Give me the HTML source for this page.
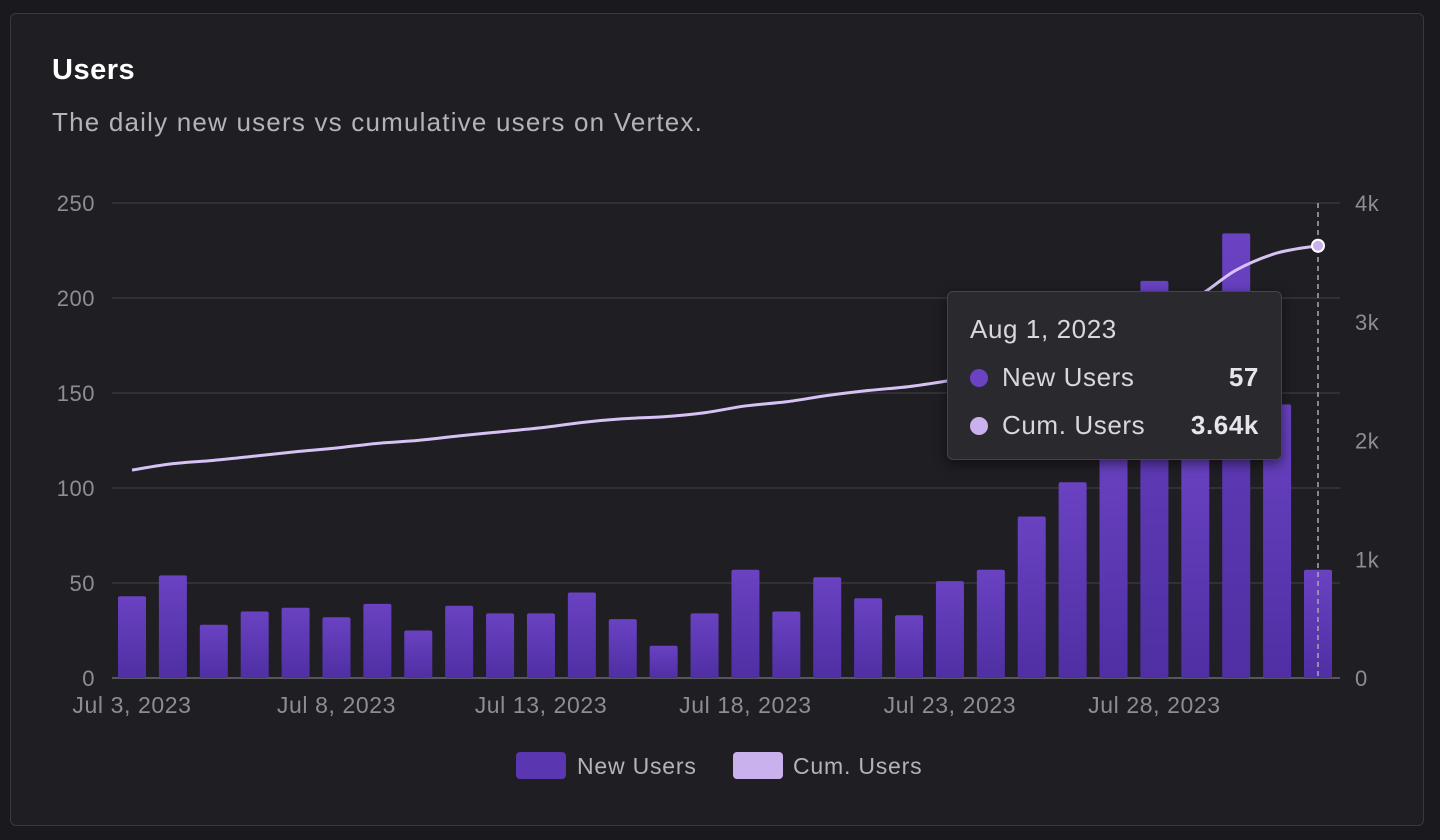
<!DOCTYPE html>
<html><head><meta charset="utf-8">
<style>
body{margin:0;width:1440px;height:840px;background:#1a191d;font-family:"Liberation Sans",sans-serif;overflow:hidden}
.card{position:absolute;left:10px;top:13px;width:1414px;height:813px;border:1px solid #3a393f;border-radius:6px;background:#1f1e23;box-sizing:border-box}
h1{position:absolute;left:52px;top:54px;margin:0;font-size:29px;font-weight:bold;color:#fff;letter-spacing:0.5px}
.sub{position:absolute;left:52px;top:107px;font-size:26px;color:#b4b3b9;letter-spacing:1.2px}
.tt{position:absolute;left:947px;top:291px;width:335px;height:169px;background:#2a292e;border:1px solid #45444a;border-radius:6px;box-sizing:border-box;color:#d8d7dc;font-size:26px;letter-spacing:0.6px;box-shadow:0 4px 12px rgba(0,0,0,.5)}
.tt .r{position:absolute;left:22px;right:22px;display:flex;align-items:center}
.tt .d{width:18px;height:18px;border-radius:50%;margin-right:14px}
.tt b{margin-left:auto;color:#e6e5ea}
</style></head><body>
<div class="card"></div>
<h1>Users</h1>
<div class="sub">The daily new users vs cumulative users on Vertex.</div>
<svg id="c" width="1440" height="840" style="position:absolute;left:0;top:0">
<defs><linearGradient id="g" x1="0" y1="0" x2="0" y2="1"><stop offset="0" stop-color="#6a42c2"/><stop offset="1" stop-color="#4f2fa3"/></linearGradient></defs>
</svg>
<div class="tt">
<div style="position:absolute;left:22px;top:22px">Aug 1, 2023</div>
<div class="r" style="top:70px"><span class="d" style="background:#6a42c2"></span>New Users<b>57</b></div>
<div class="r" style="top:118px"><span class="d" style="background:#c9b1ee"></span>Cum. Users<b>3.64k</b></div>
</div>
<script>
const categories=["Jul 3","Jul 4","Jul 5","Jul 6","Jul 7","Jul 8","Jul 9","Jul 10","Jul 11","Jul 12","Jul 13","Jul 14","Jul 15","Jul 16","Jul 17","Jul 18","Jul 19","Jul 20","Jul 21","Jul 22","Jul 23","Jul 24","Jul 25","Jul 26","Jul 27","Jul 28","Jul 29","Jul 30","Jul 31","Aug 1"];
const newUsers=[43,54,28,35,37,32,39,25,38,34,34,45,31,17,34,57,35,53,42,33,51,57,85,103,122,209,120,234,144,57];
const cumUsers=[1751,1805,1833,1868,1905,1937,1976,2001,2039,2073,2107,2152,2183,2200,2234,2291,2326,2379,2421,2454,2505,2562,2647,2750,2872,3081,3201,3435,3579,3640];
const leftTicks=[0,50,100,150,200,250];
const rightTicks=[0,1000,2000,3000,4000];
const rightLabels=["0","1k","2k","3k","4k"];
const xLabels=["Jul 3, 2023","Jul 8, 2023","Jul 13, 2023","Jul 18, 2023","Jul 23, 2023","Jul 28, 2023"];
const xLabelIdx=[0,5,10,15,20,25];
const svg=document.getElementById('c');const NS='http://www.w3.org/2000/svg';
const X0=132,X1=1318,Y0=678,Y1=203;
const x=i=>X0+(X1-X0)*i/(categories.length-1);
const yl=v=>Y0-(Y0-Y1)*v/250;
const yr=v=>Y0-(Y0-Y1)*v/4000;
function mk(t,a,txt){const e=document.createElementNS(NS,t);for(const k in a)e.setAttribute(k,a[k]);if(txt!==undefined)e.textContent=txt;svg.appendChild(e);return e;}
leftTicks.forEach(v=>{const l=mk('line',{x1:112,x2:1340,y1:yl(v),y2:yl(v),stroke:v===0?'#6a696f':'#38373d','stroke-width':1.5});

const t=mk('text',{x:95,y:yl(v)+8,'text-anchor':'end',fill:'#8e8d93','font-size':22,'letter-spacing':0.5},String(v));
});
rightTicks.forEach((v,i)=>{const t=mk('text',{x:1355,y:yr(v)+8,fill:'#8e8d93','font-size':22,'letter-spacing':0.5},rightLabels[i]);
});
xLabelIdx.forEach((ix,i)=>{const t=mk('text',{x:x(ix),y:713,'text-anchor':'middle',fill:'#8e8d93','font-size':23,'letter-spacing':0.6},xLabels[i]);
});
newUsers.forEach((v,i)=>{const r=mk('rect',{x:x(i)-14,y:yl(v),width:28,height:Y0-yl(v),rx:2,fill:'url(#g)'});
});
mk('line',{x1:x(29),x2:x(29),y1:203,y2:678,stroke:'#aaa','stroke-width':1.5,'stroke-dasharray':'5,4'});
const pts=cumUsers.map((v,i)=>[x(i),yr(v)]);
let d='M'+pts[0][0]+','+pts[0][1];
for(let i=0;i<pts.length-1;i++){const p0=pts[i-1]||pts[i],p1=pts[i],p2=pts[i+1],p3=pts[i+2]||p2;
d+=` C${p1[0]+(p2[0]-p0[0])/6},${p1[1]+(p2[1]-p0[1])/6} ${p2[0]-(p3[0]-p1[0])/6},${p2[1]-(p3[1]-p1[1])/6} ${p2[0]},${p2[1]}`;}
const ln=mk('path',{d:d,fill:'none',stroke:'#d6c2f5','stroke-width':3});

const pt=mk('circle',{cx:x(29),cy:yr(cumUsers[29]),r:6,fill:'#c9b1ee',stroke:'#fff','stroke-width':2});

const s1=mk('rect',{x:516,y:752,width:50,height:27,rx:4,fill:'#5a36b0'});

const t1=mk('text',{x:577,y:774,fill:'#b4b3b9','font-size':23,'letter-spacing':0.8},'New Users');

const s2=mk('rect',{x:733,y:752,width:50,height:27,rx:4,fill:'#c9b1ee'});

const t2=mk('text',{x:793,y:774,fill:'#b4b3b9','font-size':23,'letter-spacing':0.8},'Cum. Users');

</script>
</body></html>
